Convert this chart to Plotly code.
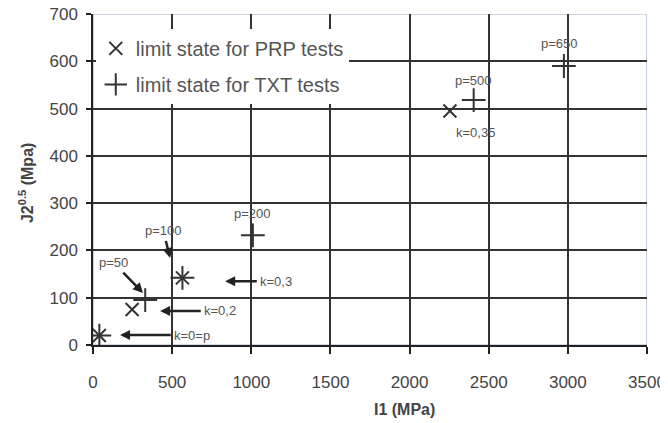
import plotly.graph_objects as go

# data (MPa)
prp_x = [247, 2255, 40, 565]
prp_y = [75, 495, 20, 142]
txt_x = [330, 1010, 2405, 2975, 40, 565]
txt_y = [95, 232, 518, 590, 20, 142]

# labels: (text, text x, text y, arrow head x, arrow head y or None)
labels = [
    ("k=0=p", 627, 21, 171, 21),
    ("k=0,2", 804, 72, 424, 72),
    ("k=0,3", 1158, 135, 835, 135),
    ("p=50", 127, 175, 316, 110),
    ("p=100", 443, 243, 487, 184),
    ("p=200", 1006, 279, None, None),
    ("p=500", 2405, 560, None, None),
    ("k=0,35", 2418, 450, None, None),
    ("p=650", 2949, 638, None, None),
]

FONT = "Liberation Sans, Arial"
mc = "#333333"
fig = go.Figure()
fig.add_trace(go.Scatter(
    x=prp_x, y=prp_y, mode="markers", name="limit state for PRP tests",
    legendgroup="a",
    marker=dict(symbol="x-thin-open", size=13, line=dict(color=mc, width=2), color=mc)))
fig.add_trace(go.Scatter(
    x=txt_x, y=txt_y, mode="markers", name="limit state for TXT tests",
    legendgroup="b",
    marker=dict(symbol="cross-thin-open", size=17, line=dict(color=mc, width=2), color=mc)))

annotations = []
lf = dict(size=13, color="#555555", family=FONT)
for t, tx, ty, hx, hy in labels:
    if hx is None:
        annotations.append(dict(x=tx, y=ty, xref="x", yref="y", text=t, showarrow=False, font=lf))
    else:
        annotations.append(dict(x=hx, y=hy, ax=tx, ay=ty, xref="x", yref="y", axref="x", ayref="y",
                                text=t, showarrow=True, arrowhead=2, arrowsize=0.8, arrowwidth=2.5,
                                arrowcolor="#222222", standoff=0, startstandoff=2, font=lf))

# axis titles
annotations.append(dict(x=0.563, y=-0.196, xref="paper", yref="paper", text="<b>I1 (MPa)</b>",
                        showarrow=False, xanchor="center", yanchor="middle",
                        font=dict(size=16, color="#444444", family=FONT)))
annotations.append(dict(x=-0.121, y=0.489, xref="paper", yref="paper",
                        text="<b>J2<sup>0.5</sup> (Mpa)</b>", textangle=-90,
                        showarrow=False, xanchor="center", yanchor="middle",
                        font=dict(size=16, color="#444444", family=FONT)))

fig.update_layout(
    width=668, height=423,
    margin=dict(l=85, r=29, t=6, b=86),
    paper_bgcolor="white", plot_bgcolor="white",
    font=dict(family=FONT, color="#444444"),
    showlegend=True,
    legend=dict(x=0.005, y=0.955, xanchor="left", yanchor="top", bgcolor="white",
                font=dict(size=20, color="#555555"), tracegroupgap=7, traceorder="grouped"),
    annotations=annotations,
    shapes=[dict(type="rect", xref="x", yref="y", x0=0, x1=3500, y0=0, y1=700,
                 line=dict(color="#9fb3c8", width=1.2), layer="below")],
)
fig.update_xaxes(range=[0, 3500], dtick=500, showgrid=True, gridcolor="#333333", gridwidth=1.5,
                 zeroline=False, showline=True, linecolor="#222222", linewidth=1.5,
                 ticks="outside", ticklen=7, tickcolor="#222222", tickwidth=1.5, automargin=False,
                 ticklabeloverflow="allow",
                 ticklabelstandoff=14, tickfont=dict(size=17, color="#444444"))
fig.update_yaxes(range=[0, 700], dtick=100, showgrid=True, gridcolor="#333333", gridwidth=1.5,
                 zeroline=False, showline=True, linecolor="#222222", linewidth=1.5,
                 ticks="outside", ticklen=5, tickcolor="#222222", tickwidth=1.5, automargin=False,
                 ticklabeloverflow="allow",
                 ticklabelstandoff=5, tickfont=dict(size=17, color="#444444"))

fig.write_html("out.html")
